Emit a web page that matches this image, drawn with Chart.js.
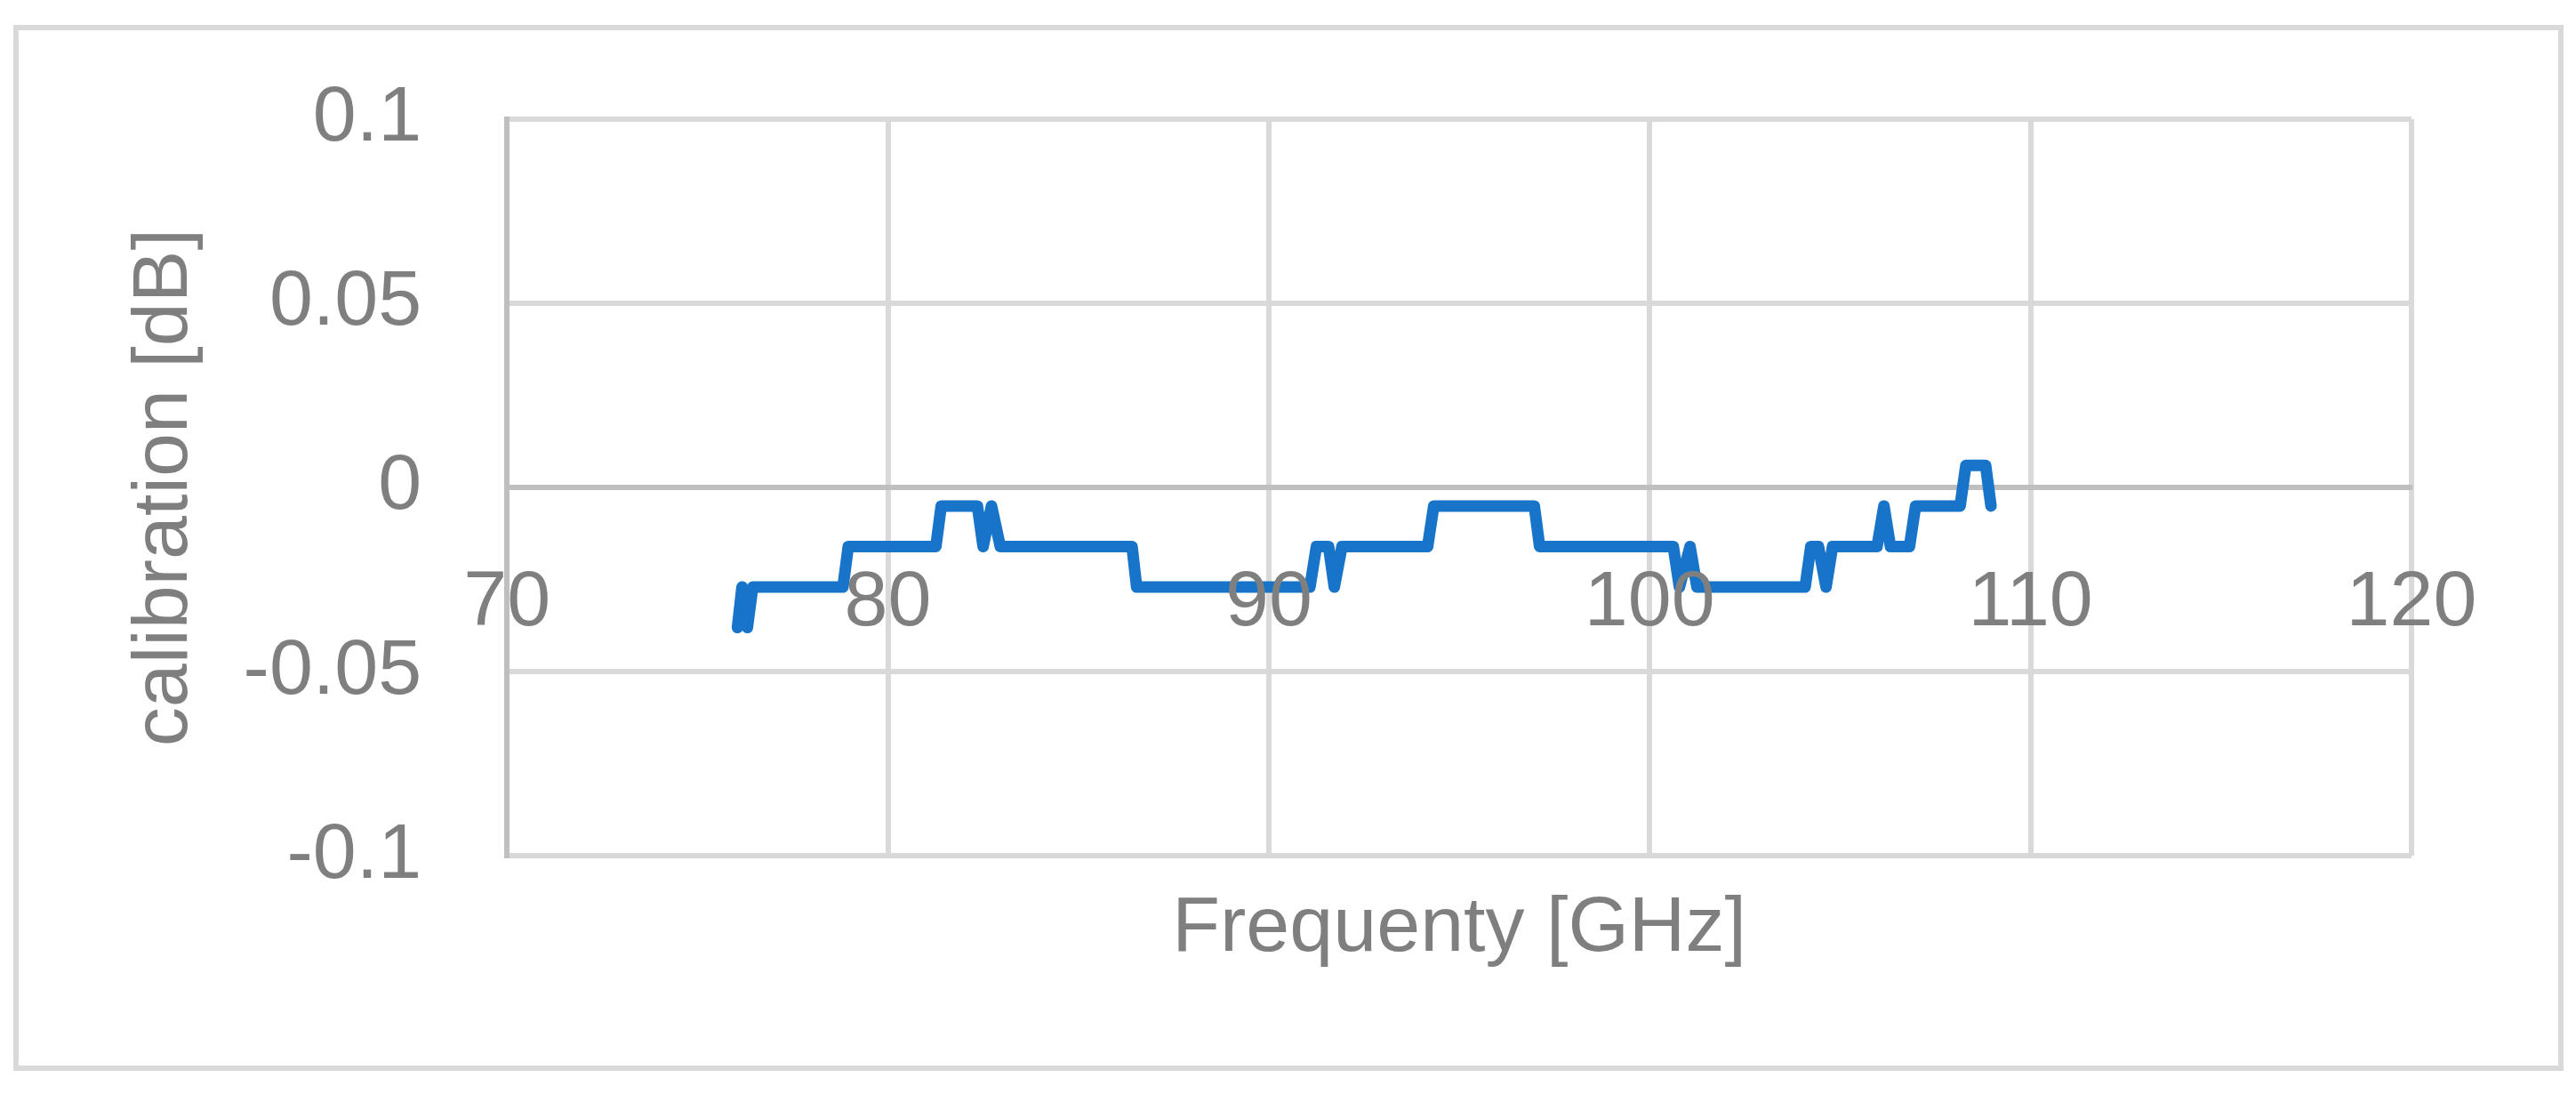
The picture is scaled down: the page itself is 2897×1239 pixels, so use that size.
<!DOCTYPE html>
<html>
<head>
<meta charset="utf-8">
<script src="https://cdn.jsdelivr.net/npm/chart.js@4.4.1/dist/chart.umd.min.js"></script>
<style>
    body{ margin:0; background:#ffffff; }
    canvas{ display:block; }
</style>
</head>
<body>
<canvas id="canva1" width="2897" height="1239"></canvas>
<script>
// frecuencia en GHz y calibracion en dB
let frecuencia = [76.05, 76.17, 76.31, 76.45, 78.82, 78.96, 81.26, 81.40, 82.35, 82.50,
    82.72, 82.95, 86.41, 86.53, 91.08, 91.25, 91.57, 91.72, 91.92, 94.17,
    94.33, 96.97, 97.11, 100.62, 100.78, 101.06, 101.24, 104.08, 104.23, 104.43,
    104.63, 104.80, 105.97, 106.15, 106.32, 106.82, 106.98, 108.15, 108.30, 108.82,
    108.96];
let calibracion = [-0.038, -0.027, -0.038, -0.027, -0.027, -0.016, -0.016, -0.005, -0.005, -0.016,
    -0.005, -0.016, -0.016, -0.027, -0.027, -0.016, -0.016, -0.027, -0.016, -0.016,
    -0.005, -0.005, -0.016, -0.016, -0.027, -0.016, -0.027, -0.027, -0.016, -0.016,
    -0.027, -0.016, -0.016, -0.005, -0.016, -0.016, -0.005, -0.005, 0.006, 0.006,
    -0.005];
let xTicks = [70, 80, 90, 100, 110, 120];
let xTickLabels = ["70", "80", "90", "100", "110", "120"];
let yTicks = [-0.1, -0.05, 0, 0.05, 0.1];
let yTickLabels = ["-0.1", "-0.05", "0", "0.05", "0.1"];

let gris = "#7f7f7f";
let fuente = { family: "Liberation Sans", size: 88 };

let puntos = frecuencia.map((f, i) => ({ x: f, y: calibracion[i] }));

// marco exterior del grafico
let marco = {
    id: "marco",
    beforeDraw(chart){
        let ctx = chart.ctx;
        ctx.save();
        ctx.strokeStyle = "#d9d9d9";
        ctx.lineWidth = 6;
        ctx.strokeRect(18, 31, 2862, 1170);
        ctx.restore();
    }
};

window.onload = function(){
    let ctx = document.getElementById("canva1").getContext("2d");
    let grafico = new Chart(ctx, {
        type: "scatter",
        data: {
            datasets: [{
                label: "calibration",
                data: puntos,
                showLine: true,
                borderColor: "#1874c8",
                backgroundColor: "#1874c8",
                borderWidth: 13,
                borderJoinStyle: "round",
                borderCapStyle: "round",
                pointRadius: 0,
                xAxisID: "x",
                yAxisID: "y"
            }]
        },
        options: {
            responsive: false,
            animation: false,
            layout: { padding: { left: 40, right: 185, top: 134, bottom: 141 } },
            plugins: {
                legend: { display: false },
                tooltip: { enabled: false }
            },
            scales: {
                x: {
                    type: "linear",
                    position: "bottom",
                    min: 70,
                    max: 120,
                    afterBuildTicks: s => { s.ticks = xTicks.map(v => ({ value: v })); },
                    ticks: { display: false },
                    grid: { color: "#d9d9d9", lineWidth: 6, drawTicks: false },
                    border: { display: false },
                    title: {
                        display: true,
                        text: "Frequenty [GHz]",
                        color: gris,
                        font: fuente,
                        padding: { top: 30, bottom: 0 }
                    }
                },
                x2: {
                    type: "linear",
                    position: { y: 0 },
                    min: 70,
                    max: 120,
                    afterBuildTicks: s => { s.ticks = xTicks.map(v => ({ value: v })); },
                    ticks: {
                        color: gris,
                        font: fuente,
                        padding: 78,
                        z: 1,
                        maxRotation: 0,
                        callback: (v, i) => xTickLabels[i]
                    },
                    grid: { display: false, drawTicks: false },
                    border: { display: true, color: "#bfbfbf", width: 6 }
                },
                y: {
                    type: "linear",
                    position: "left",
                    min: -0.1,
                    max: 0.1,
                    afterBuildTicks: s => { s.ticks = yTicks.map(v => ({ value: v })); },
                    ticks: {
                        color: gris,
                        font: fuente,
                        padding: 0,
                        callback: (v, i) => yTickLabels[i]
                    },
                    // marcas invisibles para separar las etiquetas del eje
                    grid: { color: "#d9d9d9", lineWidth: 6, drawTicks: true, tickLength: 96, tickColor: "rgba(0,0,0,0)" },
                    border: { color: "#bfbfbf", width: 6 },
                    title: {
                        display: true,
                        text: "calibration [dB]",
                        color: gris,
                        font: fuente,
                        padding: { top: 93, bottom: 35 }
                    }
                }
            }
        },
        plugins: [marco]
    });
}
</script>
</body>
</html>
